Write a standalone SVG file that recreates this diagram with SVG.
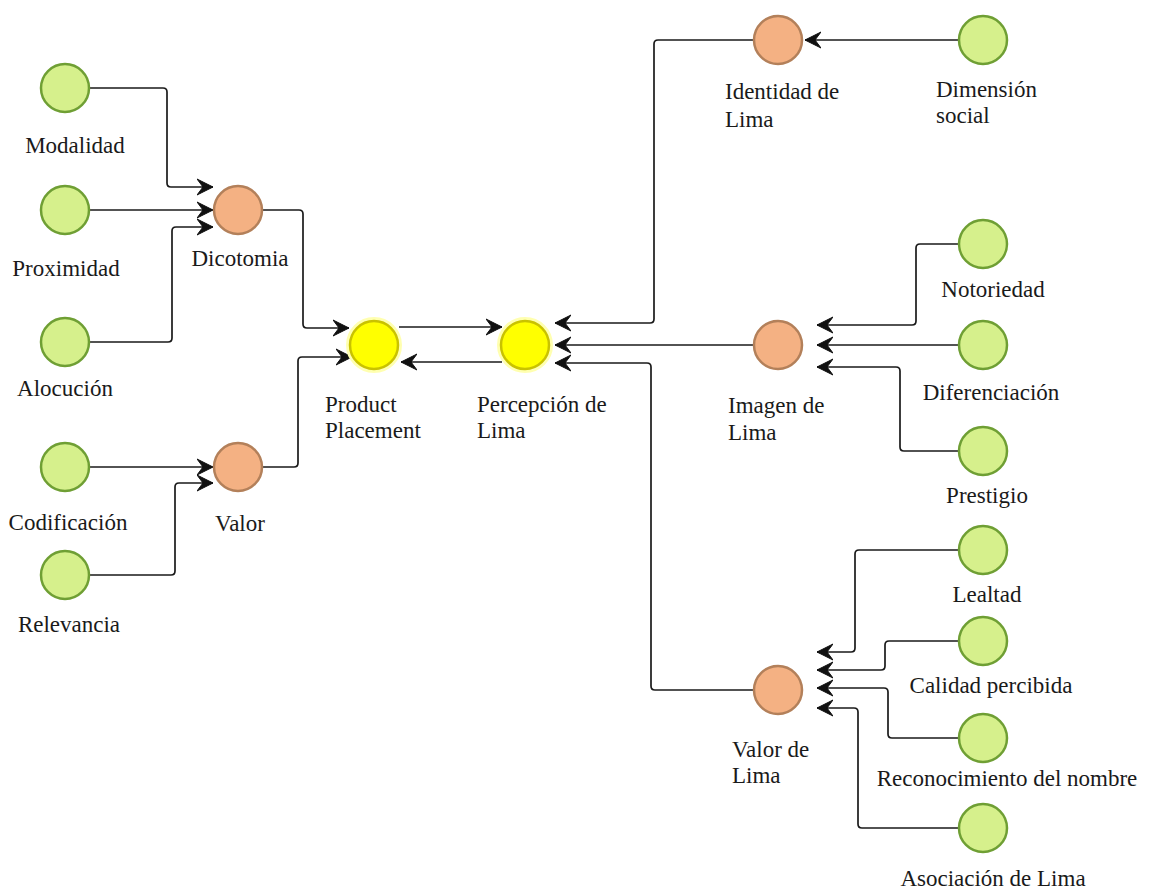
<svg xmlns="http://www.w3.org/2000/svg" width="1150" height="893" viewBox="0 0 1150 893" font-family="Liberation Serif, Times New Roman, serif">
<style>
.g{fill:#d6f08c;stroke:#6f9f34;stroke-width:2.5}
.o{fill:#f4b183;stroke:#b3805a;stroke-width:2.5}
.y{fill:#ffff00;stroke:#c9c200;stroke-width:2.5}
.halo{fill:none;stroke:#ffffb0;stroke-width:6}
.c{fill:none;stroke:#1a1a1a;stroke-width:1.7;stroke-linejoin:round;marker-end:url(#arr)}
text{font-family:"Liberation Serif","Times New Roman",serif;font-size:23px;fill:#1a1a1a}
.m{text-anchor:middle}
</style>
<defs>
<marker id="arr" markerUnits="userSpaceOnUse" viewBox="0 0 17 18" markerWidth="17" markerHeight="18" refX="16" refY="9" orient="auto">
<path d="M0,1 L16,9 L0,17 L6,9 z" fill="#111" stroke="#111" stroke-width="1" stroke-linejoin="round"/>
</marker>
</defs>
<rect width="1150" height="893" fill="#fff"/>
<g id="connectors">
<path class="c" d="M90,88 H163 Q167,88 167,92 V183 Q167,187 171,187 H213"/>
<path class="c" d="M90,210 H213"/>
<path class="c" d="M90,342 H168 Q172,342 172,338 V231 Q172,227 176,227 H213"/>
<path class="c" d="M90,467 H213"/>
<path class="c" d="M90,575 H171 Q175,575 175,571 V487 Q175,483 179,483 H213"/>
<path class="c" d="M263,210 H299 Q303,210 303,214 V324 Q303,328 307,328 H349"/>
<path class="c" d="M263,467 H294 Q298,467 298,463 V361 Q298,357 302,357 H352"/>
<path class="c" d="M399,327 H502"/>
<path class="c" d="M502,362 H401"/>
<path class="c" d="M753,40 H658 Q654,40 654,44 V319 Q654,323 650,323 H555"/>
<path class="c" d="M753,345 H555"/>
<path class="c" d="M753,690 H655 Q651,690 651,686 V367 Q651,363 647,363 H555"/>
<path class="c" d="M958,40 H805"/>
<path class="c" d="M958,244 H920 Q916,244 916,248 V321 Q916,325 912,325 H817"/>
<path class="c" d="M958,345 H817"/>
<path class="c" d="M958,451 H904 Q900,451 900,447 V371 Q900,367 896,367 H817"/>
<path class="c" d="M958,550 H859 Q855,550 855,554 V648 Q855,652 851,652 H817"/>
<path class="c" d="M958,641 H889 Q885,641 885,645 V666 Q885,670 881,670 H817"/>
<path class="c" d="M958,738 H892 Q888,738 888,734 V692 Q888,688 884,688 H817"/>
<path class="c" d="M958,828 H862 Q858,828 858,824 V712 Q858,708 854,708 H817"/>
</g>
<g id="modalidad"><circle class="g" cx="65" cy="88" r="24"/><text class="m" x="75" y="153">Modalidad</text></g>
<g id="proximidad"><circle class="g" cx="65" cy="210" r="24"/><text class="m" x="66" y="276">Proximidad</text></g>
<g id="alocucion"><circle class="g" cx="65" cy="342" r="24"/><text class="m" x="65" y="396">Alocución</text></g>
<g id="codificacion"><circle class="g" cx="65" cy="467" r="24"/><text class="m" x="68" y="530">Codificación</text></g>
<g id="relevancia"><circle class="g" cx="65" cy="575" r="24"/><text class="m" x="69" y="632">Relevancia</text></g>
<g id="dicotomia"><circle class="o" cx="238" cy="210" r="24"/><text class="m" x="240" y="266">Dicotomia</text></g>
<g id="valor"><circle class="o" cx="238" cy="467" r="24"/><text class="m" x="240" y="531">Valor</text></g>
<g id="product-placement"><circle class="halo" cx="374" cy="345" r="25"/><circle class="y" cx="374" cy="345" r="24"/><text x="325" y="412">Product</text><text x="325" y="438">Placement</text></g>
<g id="percepcion"><circle class="halo" cx="525" cy="345" r="25"/><circle class="y" cx="525" cy="345" r="24"/><text x="477" y="412">Percepción de</text><text x="477" y="438">Lima</text></g>
<g id="identidad"><circle class="o" cx="778" cy="40" r="24"/><text x="725" y="99">Identidad de</text><text x="725" y="127">Lima</text></g>
<g id="dimension"><circle class="g" cx="983" cy="40" r="24"/><text x="936" y="97">Dimensión</text><text x="936" y="123">social</text></g>
<g id="imagen"><circle class="o" cx="778" cy="345" r="24"/><text x="728" y="413">Imagen de</text><text x="728" y="440">Lima</text></g>
<g id="notoriedad"><circle class="g" cx="983" cy="244" r="24"/><text class="m" x="993" y="297">Notoriedad</text></g>
<g id="diferenciacion"><circle class="g" cx="983" cy="345" r="24"/><text class="m" x="991" y="400">Diferenciación</text></g>
<g id="prestigio"><circle class="g" cx="983" cy="451" r="24"/><text class="m" x="987" y="503">Prestigio</text></g>
<g id="valor-lima"><circle class="o" cx="778" cy="690" r="24"/><text x="732" y="757">Valor de</text><text x="732" y="783">Lima</text></g>
<g id="lealtad"><circle class="g" cx="983" cy="550" r="24"/><text class="m" x="987" y="602">Lealtad</text></g>
<g id="calidad"><circle class="g" cx="983" cy="641" r="24"/><text class="m" x="991" y="693">Calidad percibida</text></g>
<g id="reconocimiento"><circle class="g" cx="983" cy="738" r="24"/><text class="m" x="1007" y="786">Reconocimiento del nombre</text></g>
<g id="asociacion"><circle class="g" cx="983" cy="828" r="24"/><text class="m" x="993" y="886">Asociación de Lima</text></g>
</svg>
